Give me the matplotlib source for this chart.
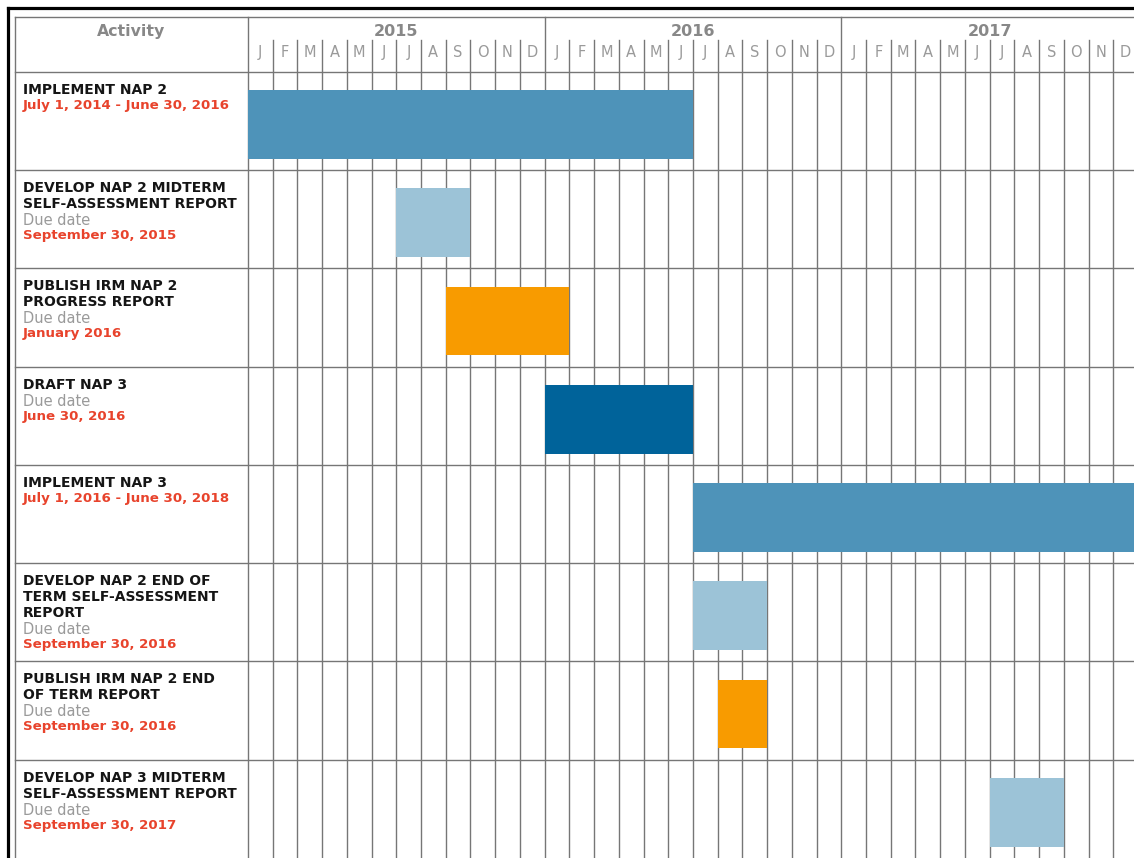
import numpy as np
import matplotlib.pyplot as plt

# activities (rows, top to bottom)
titles = [
    ["IMPLEMENT NAP 2"],
    ["DEVELOP NAP 2 MIDTERM", "SELF-ASSESSMENT REPORT"],
    ["PUBLISH IRM NAP 2", "PROGRESS REPORT"],
    ["DRAFT NAP 3"],
    ["IMPLEMENT NAP 3"],
    ["DEVELOP NAP 2 END OF", "TERM SELF-ASSESSMENT", "REPORT"],
    ["PUBLISH IRM NAP 2 END", "OF TERM REPORT"],
    ["DEVELOP NAP 3 MIDTERM", "SELF-ASSESSMENT REPORT"],
]
due_flags = [False, True, True, True, False, True, True, True]
dates = [
    "July 1, 2014 - June 30, 2016",
    "September 30, 2015",
    "January 2016",
    "June 30, 2016",
    "July 1, 2016 - June 30, 2018",
    "September 30, 2016",
    "September 30, 2016",
    "September 30, 2017",
]
# bar start / end in months counted from January 2015
start_month = np.array([-6, 6, 8, 12, 18, 18, 19, 30])
end_month = np.array([18, 9, 13, 18, 42, 21, 21, 33])
bar_colors = ["#4e93b9", "#9cc3d7", "#f89b00", "#00639a",
              "#4e93b9", "#9cc3d7", "#f89b00", "#9cc3d7"]

years = ["2015", "2016", "2017"]
month_letters = ["J", "F", "M", "A", "M", "J", "J", "A", "S", "O", "N", "D"]

grid_c = "#767676"
head_c = "#888888"
red_c = "#e8432c"

fig = plt.figure(figsize=(11.34, 8.58), dpi=100)
ax = fig.add_axes([0, 0, 1, 1])
# 1 month = 24.72 px, 1 row = 98.3 px
ax.set_xlim(-10.03, 35.84)
ax.set_ylim(8.0, -0.732)
ax.axis("off")

n_rows = len(titles)
x_left = -9.43   # left edge of activity column
y_head = -0.56   # top of header
n_months = 12 * len(years)

# bars (clipped to the timeline start), drawn over the grid
rows = np.arange(n_rows)
left = np.clip(start_month, 0, None)
ax.barh(rows + 0.535, end_month - left, left=left, height=0.70,
        color=bar_colors, zorder=3)

# grid lines
for m in range(1, n_months):
    if m % 12 == 0:
        ax.plot([m, m], [y_head, 8.1], color=grid_c, lw=1.0, zorder=2)
    else:
        ax.plot([m, m], [-0.33, 8.1], color=grid_c, lw=1.0, zorder=2)
for xv in [x_left, 0]:
    ax.plot([xv, xv], [y_head, 8.1], color=grid_c, lw=1.0, zorder=2)
for r in range(n_rows):
    ax.plot([x_left, 37], [r, r], color=grid_c, lw=1.0, zorder=2)
ax.plot([x_left, 37], [y_head, y_head], color=grid_c, lw=1.0, zorder=2)

# outer black frame
ax.plot([-9.72, 37], [-0.65, -0.65], color="black", lw=2.3, zorder=4)
ax.plot([-9.72, -9.72], [-0.65, 8.1], color="black", lw=2.3, zorder=4)

# header
ax.text(x_left / 2, -0.41, "Activity", ha="center", va="center",
        fontsize=11.3, fontweight="bold", color=head_c)
for i, yr in enumerate(years):
    ax.text(12 * i + 6, -0.41, yr, ha="center", va="center",
            fontsize=11.5, fontweight="bold", color=head_c)
    for j, ml in enumerate(month_letters):
        ax.text(12 * i + j + 0.5, -0.20, ml, ha="center", va="center",
                fontsize=10.5, color="#9a9a9a")

# activity labels
step = 0.163
for r in range(n_rows):
    y = r + 0.11
    for line in titles[r]:
        ax.text(-9.10, y, line, ha="left", va="top", fontsize=10,
                fontweight="bold", color="#151515")
        y += step
    if due_flags[r]:
        ax.text(-9.10, y, "Due date", ha="left", va="top", fontsize=10.5,
                color="#9a9a9a")
        y += step
    ax.text(-9.10, y, dates[r], ha="left", va="top", fontsize=9.6,
            fontweight="bold", color=red_c)

fig.savefig("out.png", dpi=100)
